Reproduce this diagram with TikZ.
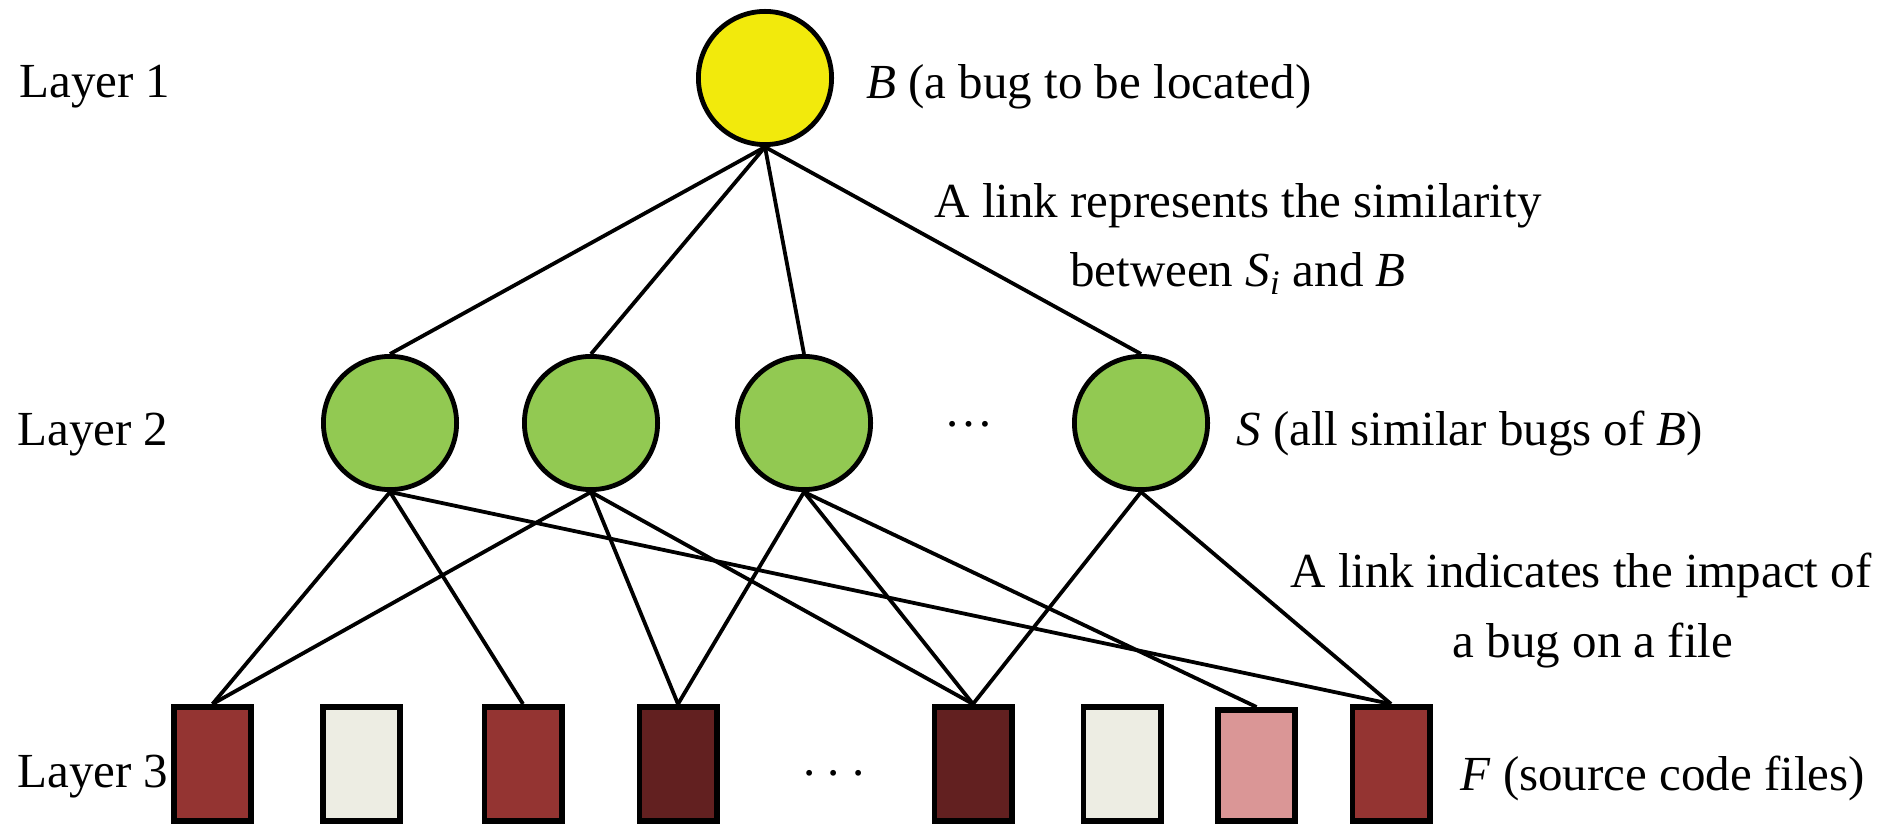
\documentclass[tikz,border=0pt]{standalone}
\usepackage{fontspec}
\setmainfont{Liberation Serif}
\definecolor{bugyellow}{HTML}{F2EA0C}
\definecolor{buggreen}{HTML}{92C952}
\definecolor{filered}{HTML}{943432}
\definecolor{filecream}{HTML}{EDEDE3}
\definecolor{filedark}{HTML}{622020}
\definecolor{filepink}{HTML}{DA9696}
\tikzset{
  bugnode/.style={circle, draw=black, line width=2.4pt, minimum size=66.6pt, inner sep=0pt},
  filenode/.style={rectangle, draw=black, line width=2.8pt, minimum width=38.7pt, minimum height=57.2pt, inner sep=0pt},
  link/.style={draw=black, line width=1.9pt},
  lbl/.style={inner sep=0pt, font=\fontsize{24.5}{29}\selectfont},
}
\begin{document}
\begin{tikzpicture}[x=0.5pt, y=-0.5pt]
\useasboundingbox (0,0) rectangle (1888,828);
% layer 1
\node[bugnode, fill=bugyellow] (B) at (765,78) {};
% layer 2
\node[bugnode, fill=buggreen] (S1) at (390,423) {};
\node[bugnode, fill=buggreen] (S2) at (591,423) {};
\node[bugnode, fill=buggreen] (S3) at (804,423) {};
\node[bugnode, fill=buggreen] (S4) at (1141,423) {};
% layer 3
\node[filenode, fill=filered]  (F1) at (212.5,764) {};
\node[filenode, fill=filecream] (F2) at (361.5,764) {};
\node[filenode, fill=filered]  (F3) at (523,764) {};
\node[filenode, fill=filedark] (F4) at (678,764) {};
\node[filenode, fill=filedark] (F5) at (973,764) {};
\node[filenode, fill=filecream] (F6) at (1122,764) {};
\node[filenode, fill=filepink, minimum height=55.7pt] (F7) at (1256.5,765.5) {};
\node[filenode, fill=filered]  (F8) at (1391,764) {};
% links layer 1 - layer 2
\foreach \s in {S1,S2,S3,S4} \path[link] (B.south) -- (\s.north);
% links layer 2 - layer 3
\path[link] (S1.south) -- (F1.north);
\path[link] (S1.south) -- (F3.north);
\path[link] (S1.south) -- (F8.north);
\path[link] (S2.south) -- (F1.north);
\path[link] (S2.south) -- (F4.north);
\path[link] (S2.south) -- (F5.north);
\path[link] (S3.south) -- (F4.north);
\path[link] (S3.south) -- (F5.north);
\path[link] (S3.south) -- (F7.north);
\path[link] (S4.south) -- (F5.north);
\path[link] (S4.south) -- (F8.north);
% texts
\node[lbl, anchor=base west] (L1) at (19,98) {Layer 1};
\node[lbl, anchor=base west] (L2) at (17,445) {Layer 2};
\node[lbl, anchor=base west] (L3) at (17,787) {Layer 3};
\node[lbl, anchor=base west] (TB) at (866,99) {\textit{B} (a bug to be located)};
\node[lbl, anchor=base] (TL1a) at (1238,218) {A link represents the similarity};
\node[lbl, anchor=base] (TL1b) at (1238,287) {between \textit{S}\textsubscript{\textit{i}} and \textit{B}};
\node[lbl, anchor=base west] (TS) at (1236,445) {\textit{S} (all similar bugs of \textit{B})};
\node[lbl, anchor=base] (TL2a) at (1581,587) {A link indicates the impact of};
\node[lbl, anchor=base] (TL2b) at (1593,657) {a bug on a file};
\node[lbl, anchor=base west] (TF) at (1460,790) {\textit{F} (source code files)};
\node[lbl, anchor=base] (D1) at (969,426) {…};
\node[lbl, anchor=base] (D2) at (834,775) {.\ .\ .};
\end{tikzpicture}
\end{document}
